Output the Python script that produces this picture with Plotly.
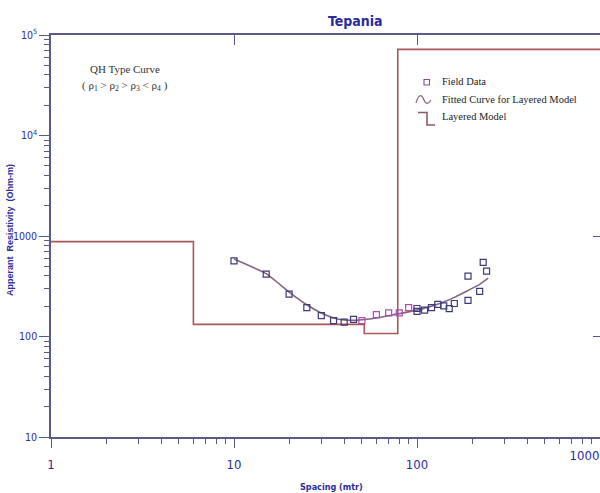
import plotly.graph_objects as go

# ---- Field sounding data (AB/2 spacing in m, apparent resistivity in ohm-m)
spacing = [10, 15, 20, 25, 30, 35, 40, 45, 50, 60, 70, 80, 90, 100, 100,
           110, 120, 130, 140, 150, 160, 190, 190, 220, 230, 240]
rho_app = [565, 417, 264, 194, 161, 144, 139, 148, 144, 165, 172, 172, 194, 190, 178,
           183, 194, 209, 202, 189, 213, 229, 398, 281, 546, 447]

# ---- Fitted (computed) curve for the layered model
fit_spacing = [10, 15, 20, 25, 30, 35, 40, 45, 50, 60, 70, 80, 100, 120, 140, 160, 190, 220, 245]
fit_rho = [590, 422, 277, 207, 171, 153, 146, 145, 147, 153, 161, 169, 183, 200, 220, 245, 287, 330, 380]

# ---- Layered model: layer-boundary depths and resistivities (rho1 > rho2 > rho3 < rho4)
model_depth = [1, 6.0, 51.5, 78.5, 1200]
model_rho = [880, 132, 107, 72000, 72000]

# ---- Axis ticks
x_major = [1, 10, 100, 1000]
x_labels = ["1", "10", "100", ""]
x_edge_tick = [1000]
x_edge_label = ["1000"]
y_major = [10, 100, 1000, 10000, 100000]
y_labels = ["10", "100", "1000", "10<sup>4</sup>", "10<sup>5</sup>"]

AXIS = "#5a5a88"
BLUE = "#2b2b9e"
NAVY = "#3c3a78"
PINK = "#b04cb0"
MODEL = "#a65a58"
FIT = "#86647e"
TICKFONT = "Liberation Sans Narrow, DejaVu Sans Condensed, Arial Narrow, sans-serif"
SERIF = "Liberation Serif, Times New Roman, serif"

W, H = 600, 493
L, R, T, B = 51, 0, 35, 56
PW, PH = W - L - R, H - T - B


def px(x):
    return (x - L) / PW


def py(y):
    return (H - B - y) / PH


minor_x = [m * d for d in (1, 10, 100) for m in range(2, 10)]
minor_y = [m * d for d in (10, 100, 1000, 10000) for m in range(2, 10)]

point_colors = [PINK if 48 <= s <= 92 else NAVY for s in spacing]

fig = go.Figure()

fig.add_trace(go.Scatter(
    x=model_depth, y=model_rho, mode="lines", line=dict(color=MODEL, width=1.6, shape="hv"),
    showlegend=False, hoverinfo="skip"))

fig.add_trace(go.Scatter(
    x=fit_spacing, y=fit_rho, mode="lines",
    line=dict(color=FIT, width=1.6, shape="spline", smoothing=0.4),
    showlegend=False, hoverinfo="skip"))

fig.add_trace(go.Scatter(
    x=spacing, y=rho_app, mode="markers",
    marker=dict(symbol="square-open", size=6, color=point_colors, line=dict(width=1.2)),
    showlegend=False))

# mirrored top/right frame axes and the right-edge tick label axis
fig.add_trace(go.Scatter(x=[], y=[], xaxis="x2", yaxis="y2", showlegend=False, hoverinfo="skip"))
fig.add_trace(go.Scatter(x=[], y=[], xaxis="x3", yaxis="y", showlegend=False, hoverinfo="skip"))

tickfont_x = dict(family=TICKFONT, size=13, color=BLUE)

fig.update_layout(
    width=W, height=H,
    margin=dict(l=L, r=R, t=T, b=B, pad=0, autoexpand=False),
    paper_bgcolor="white", plot_bgcolor="white",
    showlegend=False,
    xaxis=dict(
        type="log", range=[0, 3.0], showgrid=False, zeroline=False, automargin=False,
        showline=True, linecolor=AXIS, linewidth=1.5,
        ticks="outside", ticklen=9, tickwidth=1.3, tickcolor=AXIS,
        tickvals=x_major, ticktext=x_labels, ticklabelstandoff=6,
        tickfont=tickfont_x,
        minor=dict(ticks="outside", ticklen=5, tickwidth=1.2, tickcolor=AXIS, tickvals=minor_x),
    ),
    xaxis3=dict(
        type="log", range=[0, 3.0], overlaying="x", side="bottom", anchor="y", automargin=False,
        showgrid=False, zeroline=False, showline=False,
        ticks="outside", ticklen=9, tickwidth=1.3, tickcolor=AXIS,
        tickvals=x_edge_tick, ticktext=x_edge_label, ticklabelstandoff=6,
        ticklabelposition="outside left", tickfont=tickfont_x,
    ),
    yaxis=dict(
        type="log", range=[1, 5], showgrid=False, zeroline=False, automargin=False,
        showline=True, linecolor=AXIS, linewidth=1.5,
        ticks="outside", ticklen=10, tickwidth=1.3, tickcolor=AXIS,
        tickvals=y_major, ticktext=y_labels, ticklabelstandoff=0,
        tickfont=dict(family=TICKFONT, size=10.5, color=BLUE),
        minor=dict(ticks="outside", ticklen=5, tickwidth=1.2, tickcolor=AXIS, tickvals=minor_y),
    ),
    xaxis2=dict(
        type="log", range=[0, 3.0], overlaying="x", side="top", anchor="y2", automargin=False,
        showgrid=False, zeroline=False, showline=True, linecolor=AXIS, linewidth=1.5,
        ticks="inside", ticklen=10, tickwidth=1.3, tickcolor=AXIS,
        tickvals=[10, 100], showticklabels=False,
    ),
    yaxis2=dict(
        type="log", range=[1, 5], overlaying="y", side="right", anchor="x2", automargin=False,
        showgrid=False, zeroline=False, showline=True, linecolor=AXIS, linewidth=1.5,
        ticks="inside", ticklen=7, tickwidth=1.3, tickcolor=AXIS,
        tickvals=[100, 1000], showticklabels=False,
    ),
)

annotations = [
    dict(x=px(355), y=py(21), text="<b>Tepania</b>",
         font=dict(family=TICKFONT, size=14, color=BLUE)),
    dict(x=px(125), y=py(69), text="QH Type Curve",
         font=dict(family=SERIF, size=11, color="#333333")),
    dict(x=px(125), y=py(86),
         text="( ρ<sub>1</sub> &gt; ρ<sub>2</sub> &gt; ρ<sub>3</sub> &lt; ρ<sub>4</sub> )",
         font=dict(family=SERIF, size=11, color="#333333")),
    dict(x=px(440), y=py(82), text="Field Data", xanchor="left",
         font=dict(family=SERIF, size=10.5, color="#222222")),
    dict(x=px(440), y=py(99), text="Fitted Curve for Layered Model", xanchor="left",
         font=dict(family=SERIF, size=10.5, color="#222222")),
    dict(x=px(440), y=py(116), text="Layered Model", xanchor="left",
         font=dict(family=SERIF, size=10.5, color="#222222")),
    dict(x=px(331), y=py(487), text="<b>Spacing (mtr)</b>",
         font=dict(family=TICKFONT, size=9, color=BLUE)),
    dict(x=px(10), y=py(230), text="<b>Apperant  Resistivity  (Ohm-m)</b>", textangle=-90,
         font=dict(family="Liberation Sans, Arial, sans-serif", size=9, color=BLUE)),
]
for a in annotations:
    a.setdefault("xanchor", "center")
    a.update(xref="paper", yref="paper", yanchor="middle", showarrow=False)
fig.update_layout(annotations=annotations)

# legend glyphs
fig.add_shape(type="rect", xref="paper", yref="paper",
              x0=px(424), x1=px(429.5), y0=py(79.5), y1=py(85),
              line=dict(color="#8a4a8a", width=1.1))
fig.add_shape(type="path", xref="paper", yref="paper",
              path=(f"M {px(416)},{py(103)} C {px(418.5)},{py(94)} {px(421.5)},{py(94)} {px(423.5)},{py(99)} "
                    f"C {px(425.5)},{py(104)} {px(428)},{py(105)} {px(431)},{py(100)}"),
              line=dict(color=FIT, width=1.2))
fig.add_shape(type="path", xref="paper", yref="paper",
              path=(f"M {px(418)},{py(112.5)} L {px(427)},{py(112.5)} L {px(427)},{py(125)} "
                    f"L {px(435)},{py(125)}"),
              line=dict(color="#8a5a6a", width=1.6))

fig.write_html("out.html")
